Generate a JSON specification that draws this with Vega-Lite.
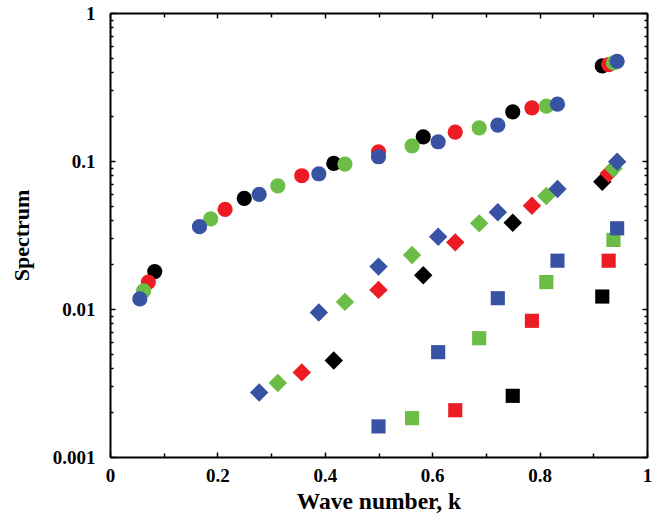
{
  "$schema": "https://vega.github.io/schema/vega-lite/v6.json",
  "width": 537,
  "height": 444,
  "autosize": "none",
  "padding": {"left": 110, "top": 13, "right": 17, "bottom": 58},
  "background": "white",
  "config": {
    "view": {"stroke": null},
    "axis": {
      "labelFont": "Liberation Serif",
      "labelFontWeight": "bold",
      "labelFontSize": 19,
      "labelColor": "black",
      "titleFont": "Liberation Serif",
      "titleFontWeight": "bold",
      "titleFontSize": 22,
      "titleColor": "black",
      "domainColor": "black",
      "domainWidth": 2,
      "tickColor": "black",
      "tickWidth": 1.5,
      "grid": false
    }
  },
  "data": {
    "values": [
      {"k": 0.0833, "s": 0.0179, "n": "N12", "type": "circle"},
      {"k": 0.25, "s": 0.0559, "n": "N12", "type": "circle"},
      {"k": 0.4167, "s": 0.0963, "n": "N12", "type": "circle"},
      {"k": 0.5833, "s": 0.1457, "n": "N12", "type": "circle"},
      {"k": 0.75, "s": 0.2148, "n": "N12", "type": "circle"},
      {"k": 0.9167, "s": 0.439, "n": "N12", "type": "circle"},
      {"k": 0.4167, "s": 0.00449, "n": "N12", "type": "diamond"},
      {"k": 0.5833, "s": 0.0169, "n": "N12", "type": "diamond"},
      {"k": 0.75, "s": 0.0383, "n": "N12", "type": "diamond"},
      {"k": 0.9167, "s": 0.0724, "n": "N12", "type": "diamond"},
      {"k": 0.75, "s": 0.00259, "n": "N12", "type": "square"},
      {"k": 0.9167, "s": 0.01214, "n": "N12", "type": "square"},
      {"k": 0.0714, "s": 0.0152, "n": "N14", "type": "circle"},
      {"k": 0.2143, "s": 0.0471, "n": "N14", "type": "circle"},
      {"k": 0.3571, "s": 0.0795, "n": "N14", "type": "circle"},
      {"k": 0.5, "s": 0.1154, "n": "N14", "type": "circle"},
      {"k": 0.6429, "s": 0.1567, "n": "N14", "type": "circle"},
      {"k": 0.7857, "s": 0.2287, "n": "N14", "type": "circle"},
      {"k": 0.9286, "s": 0.448, "n": "N14", "type": "circle"},
      {"k": 0.3571, "s": 0.00373, "n": "N14", "type": "diamond"},
      {"k": 0.5, "s": 0.01346, "n": "N14", "type": "diamond"},
      {"k": 0.6429, "s": 0.0282, "n": "N14", "type": "diamond"},
      {"k": 0.7857, "s": 0.0499, "n": "N14", "type": "diamond"},
      {"k": 0.9286, "s": 0.0824, "n": "N14", "type": "diamond"},
      {"k": 0.6429, "s": 0.00207, "n": "N14", "type": "square"},
      {"k": 0.7857, "s": 0.00832, "n": "N14", "type": "square"},
      {"k": 0.9286, "s": 0.0212, "n": "N14", "type": "square"},
      {"k": 0.0625, "s": 0.01326, "n": "N16", "type": "circle"},
      {"k": 0.1875, "s": 0.0406, "n": "N16", "type": "circle"},
      {"k": 0.3125, "s": 0.068, "n": "N16", "type": "circle"},
      {"k": 0.4375, "s": 0.0953, "n": "N16", "type": "circle"},
      {"k": 0.5625, "s": 0.1267, "n": "N16", "type": "circle"},
      {"k": 0.6875, "s": 0.1676, "n": "N16", "type": "circle"},
      {"k": 0.8125, "s": 0.2346, "n": "N16", "type": "circle"},
      {"k": 0.9375, "s": 0.46, "n": "N16", "type": "circle"},
      {"k": 0.3125, "s": 0.00316, "n": "N16", "type": "diamond"},
      {"k": 0.4375, "s": 0.01117, "n": "N16", "type": "diamond"},
      {"k": 0.5625, "s": 0.0232, "n": "N16", "type": "diamond"},
      {"k": 0.6875, "s": 0.0379, "n": "N16", "type": "diamond"},
      {"k": 0.8125, "s": 0.058, "n": "N16", "type": "diamond"},
      {"k": 0.9375, "s": 0.0891, "n": "N16", "type": "diamond"},
      {"k": 0.5625, "s": 0.00183, "n": "N16", "type": "square"},
      {"k": 0.6875, "s": 0.00635, "n": "N16", "type": "square"},
      {"k": 0.8125, "s": 0.0152, "n": "N16", "type": "square"},
      {"k": 0.9375, "s": 0.0293, "n": "N16", "type": "square"},
      {"k": 0.0556, "s": 0.0117, "n": "N18", "type": "circle"},
      {"k": 0.1667, "s": 0.036, "n": "N18", "type": "circle"},
      {"k": 0.2778, "s": 0.0595, "n": "N18", "type": "circle"},
      {"k": 0.3889, "s": 0.082, "n": "N18", "type": "circle"},
      {"k": 0.5, "s": 0.1068, "n": "N18", "type": "circle"},
      {"k": 0.6111, "s": 0.1349, "n": "N18", "type": "circle"},
      {"k": 0.7222, "s": 0.1747, "n": "N18", "type": "circle"},
      {"k": 0.8333, "s": 0.2421, "n": "N18", "type": "circle"},
      {"k": 0.9444, "s": 0.472, "n": "N18", "type": "circle"},
      {"k": 0.2778, "s": 0.00273, "n": "N18", "type": "diamond"},
      {"k": 0.3889, "s": 0.00947, "n": "N18", "type": "diamond"},
      {"k": 0.5, "s": 0.01934, "n": "N18", "type": "diamond"},
      {"k": 0.6111, "s": 0.0308, "n": "N18", "type": "diamond"},
      {"k": 0.7222, "s": 0.045, "n": "N18", "type": "diamond"},
      {"k": 0.8333, "s": 0.0646, "n": "N18", "type": "diamond"},
      {"k": 0.9444, "s": 0.0988, "n": "N18", "type": "diamond"},
      {"k": 0.5, "s": 0.00161, "n": "N18", "type": "square"},
      {"k": 0.6111, "s": 0.00511, "n": "N18", "type": "square"},
      {"k": 0.7222, "s": 0.01183, "n": "N18", "type": "square"},
      {"k": 0.8333, "s": 0.0212, "n": "N18", "type": "square"},
      {"k": 0.9444, "s": 0.0351, "n": "N18", "type": "square"}
    ]
  },
  "resolve": {"axis": {"x": "independent", "y": "independent"}},
  "layer": [
    {
      "transform": [{"filter": "datum.type == 'circle'"}],
      "mark": {"type": "point", "shape": "circle", "size": 231, "filled": true, "opacity": 1, "strokeWidth": 0},
      "encoding": {
        "x": {
          "field": "k", "type": "quantitative",
          "scale": {"domain": [0, 1], "nice": false, "zero": false},
          "axis": {"orient": "bottom", "title": "Wave number, k", "titleFontSize": 23.5, "values": [0, 0.2, 0.4, 0.6, 0.8, 1], "tickSize": -5, "labelPadding": 14, "titlePadding": 4, "labelFlush": false, "labelExpr": "datum.value == 0 ? '0' : datum.value == 1 ? '1' : format(datum.value, '.1f')"}
        },
        "y": {
          "field": "s", "type": "quantitative",
          "scale": {"type": "log", "domain": [0.001, 1], "nice": false},
          "axis": {"orient": "left", "title": "Spectrum", "values": [0.001, 0.01, 0.1, 1], "tickSize": -5, "labelPadding": 20, "titlePadding": 19, "labelFlush": false, "labelExpr": "datum.value >= 1 ? '1' : datum.value >= 0.1 ? '0.1' : datum.value >= 0.01 ? '0.01' : '0.001'"}
        },
        "color": {"field": "n", "type": "nominal", "legend": null,
          "scale": {"domain": ["N12", "N14", "N16", "N18"], "range": ["#000000", "#ed1c24", "#6cbd45", "#3953a4"]}}
      }
    },
    {
      "transform": [{"filter": "datum.type == 'diamond'"}],
      "mark": {"type": "point", "shape": "diamond", "size": 340, "filled": true, "opacity": 1, "strokeWidth": 0},
      "encoding": {
        "x": {"field": "k", "type": "quantitative",
          "axis": {"orient": "top", "title": null, "labels": false, "values": [0, 0.2, 0.4, 0.6, 0.8, 1], "tickSize": -5}},
        "y": {"field": "s", "type": "quantitative",
          "axis": {"orient": "right", "title": null, "labels": false, "values": [0.001, 0.01, 0.1, 1], "tickSize": -5}},
        "color": {"field": "n", "type": "nominal", "legend": null}
      }
    },
    {
      "transform": [{"filter": "datum.type == 'square'"}],
      "mark": {"type": "point", "shape": "square", "size": 200, "filled": true, "opacity": 1, "strokeWidth": 0},
      "encoding": {
        "x": {"field": "k", "type": "quantitative",
          "axis": {"orient": "bottom", "title": null, "labels": false, "domain": false, "values": [0.1, 0.3, 0.5, 0.7, 0.9], "tickSize": -4}},
        "y": {"field": "s", "type": "quantitative",
          "axis": {"orient": "left", "title": null, "labels": false, "domain": false, "values": [0.002, 0.003, 0.004, 0.005, 0.006, 0.007, 0.008, 0.009, 0.02, 0.03, 0.04, 0.05, 0.06, 0.07, 0.08, 0.09, 0.2, 0.3, 0.4, 0.5, 0.6, 0.7, 0.8, 0.9], "tickSize": -3}},
        "color": {"field": "n", "type": "nominal", "legend": null}
      }
    },
    {
      "mark": {"type": "point", "opacity": 0},
      "encoding": {
        "x": {"field": "k", "type": "quantitative",
          "axis": {"orient": "top", "title": null, "labels": false, "domain": false, "values": [0.1, 0.3, 0.5, 0.7, 0.9], "tickSize": -4}},
        "y": {"field": "s", "type": "quantitative",
          "axis": {"orient": "right", "title": null, "labels": false, "domain": false, "values": [0.002, 0.003, 0.004, 0.005, 0.006, 0.007, 0.008, 0.009, 0.02, 0.03, 0.04, 0.05, 0.06, 0.07, 0.08, 0.09, 0.2, 0.3, 0.4, 0.5, 0.6, 0.7, 0.8, 0.9], "tickSize": -3}}
      }
    }
  ]
}
